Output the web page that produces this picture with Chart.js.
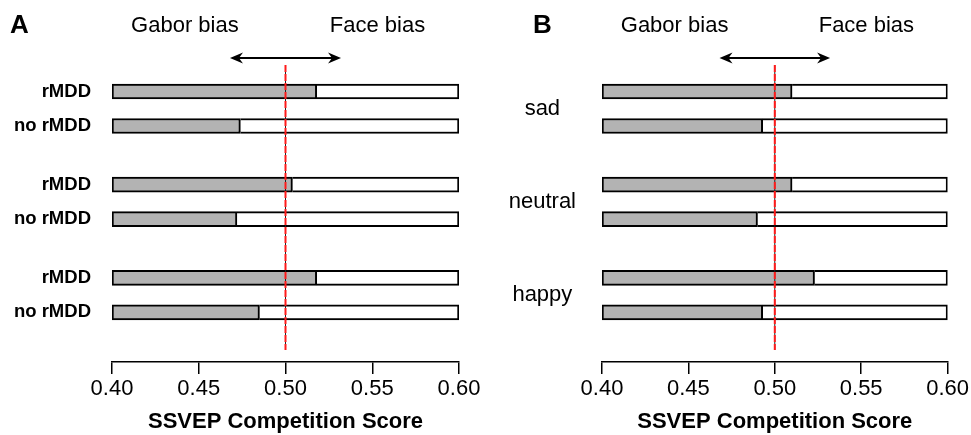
<!DOCTYPE html>
<html>
<head>
<meta charset="utf-8">
<script src="https://cdn.jsdelivr.net/npm/chart.js@4.4.1/dist/chart.umd.min.js"></script>
<style>
  body { margin: 0; background: #fff; }
  #wrap { position: relative; width: 971px; height: 435px; }
  canvas { position: absolute; top: 0; }
  #panelA { left: 0; }
  #panelB { left: 485px; }
</style>
</head>
<body>
<div id="wrap">
  <canvas id="panelA" width="485" height="435"></canvas>
  <canvas id="panelB" width="486" height="435"></canvas>
</div>
<script>
// panel A: rows, top to bottom
const labelsA = ['rMDD', 'no rMDD', 'rMDD', 'no rMDD', 'rMDD', 'no rMDD'];
const scoresA = [0.518, 0.474, 0.504, 0.472, 0.518, 0.485];

// panel B: one label per pair of rows
const labelsB = ['sad', 'neutral', 'happy'];
const scoresB = [0.510, 0.493, 0.510, 0.490, 0.523, 0.493];

const xTicks = [0.40, 0.45, 0.50, 0.55, 0.60];
const neutralScore = 0.50;

const FONT = "'Liberation Sans', Arial, Helvetica, sans-serif";
const xMin = xTicks[0], xMax = xTicks[xTicks.length - 1];

// rows come in pairs, with a gap between pairs
const rowPos = i => Math.floor(i / 2) * 2.7 + (i % 2);

const biasMarks = {
  id: 'biasMarks',
  afterDatasetsDraw(chart, args, opts) {
    const { ctx, chartArea, scales: { x } } = chart;
    const mid = x.getPixelForValue(neutralScore);
    ctx.save();

    // reference line at 0.50
    ctx.strokeStyle = '#222';
    ctx.lineWidth = 1;
    ctx.beginPath();
    ctx.moveTo(mid, chartArea.top);
    ctx.lineTo(mid, chartArea.bottom - 12);
    ctx.stroke();
    ctx.strokeStyle = '#ff1a1a';
    ctx.lineWidth = 2;
    ctx.setLineDash([7, 2]);
    ctx.beginPath();
    ctx.moveTo(mid, chartArea.top);
    ctx.lineTo(mid, chartArea.bottom - 12);
    ctx.stroke();
    ctx.setLineDash([]);

    // double arrow
    const ay = chartArea.top - 7;
    const x1 = x.getPixelForValue(0.468), x2 = x.getPixelForValue(0.532);
    ctx.strokeStyle = '#000';
    ctx.fillStyle = '#000';
    ctx.lineWidth = 2;
    ctx.beginPath();
    ctx.moveTo(x1 + 4, ay);
    ctx.lineTo(x2 - 4, ay);
    ctx.stroke();
    [[x1, 1], [x2, -1]].forEach(([tip, d]) => {
      ctx.beginPath();
      ctx.moveTo(tip, ay);
      ctx.lineTo(tip + d * 13, ay - 5.5);
      ctx.lineTo(tip + d * 9, ay);
      ctx.lineTo(tip + d * 13, ay + 5.5);
      ctx.closePath();
      ctx.fill();
    });

    // captions
    ctx.font = '22px ' + FONT;
    ctx.textAlign = 'center';
    ctx.textBaseline = 'alphabetic';
    ctx.fillText('Gabor bias', x.getPixelForValue(0.442), 32);
    ctx.fillText('Face bias', x.getPixelForValue(0.553), 32);

    ctx.font = 'bold 26px ' + FONT;
    ctx.textAlign = 'left';
    ctx.fillText(opts.letter, opts.letterX, 33);
    ctx.restore();
  }
};

function makePanel(canvasId, scores, tickRows, tickLabels, yOpts, letter, letterX, leftW, rightPad) {
  return new Chart(document.getElementById(canvasId), {
    type: 'bar',
    data: {
      datasets: [
        {
          data: scores.map((v, i) => ({ x: [xMin, v], y: rowPos(i) })),
          backgroundColor: '#b3b3b3',
          borderColor: '#000',
          borderWidth: 2,
          borderSkipped: false
        },
        {
          data: scores.map((v, i) => ({ x: [v, xMax], y: rowPos(i) })),
          backgroundColor: '#fff',
          borderColor: '#000',
          borderWidth: { top: 2, right: 2, bottom: 2, left: 0 },
          borderSkipped: false
        }
      ]
    },
    options: {
      responsive: false,
      animation: false,
      indexAxis: 'y',
      devicePixelRatio: 1,
      layout: { padding: { top: 65, left: 0, right: rightPad, bottom: 0 } },
      datasets: { bar: { grouped: false, barThickness: 15 } },
      plugins: {
        legend: { display: false },
        tooltip: { enabled: false },
        biasMarks: { letter: letter, letterX: letterX }
      },
      scales: {
        x: {
          type: 'linear',
          min: xMin,
          max: xMax,
          afterBuildTicks: s => { s.ticks = xTicks.map(v => ({ value: v })); },
          afterFit: s => { s.height = 73; },
          ticks: {
            color: '#000',
            padding: 2,
            maxRotation: 0,
            font: { family: FONT, size: 22 },
            callback: v => Number(v).toFixed(2)
          },
          grid: { drawOnChartArea: false, drawTicks: true, tickLength: 12, color: '#000', lineWidth: 1.5 },
          border: { display: true, color: '#000', width: 1.5 },
          title: {
            display: true,
            text: 'SSVEP Competition Score',
            color: '#000',
            padding: 0,
            font: { family: FONT, size: 22, weight: 'bold' }
          }
        },
        y: Object.assign({
          type: 'linear',
          reverse: true,
          offset: false,
          bounds: 'data',
          min: -0.768,
          max: 7.84,
          afterBuildTicks: s => { s.ticks = tickRows.map(v => ({ value: v })); },
          afterFit: s => { s.width = leftW; },
          grid: { display: false, drawTicks: false },
          border: { display: false }
        }, yOpts)
      }
    },
    plugins: [biasMarks]
  });
}

// panel A: one tick per row
const rowsA = labelsA.map((l, i) => rowPos(i));
makePanel('panelA', scoresA, rowsA, labelsA, {
  ticks: {
    color: '#000',
    padding: 21,
    crossAlign: 'near',
    font: { family: FONT, size: 18.5, weight: 'bold' },
    callback: (v, i) => labelsA[i]
  }
}, 'A', 10, 112, 26);

// panel B: one tick in the middle of each pair
const rowsB = labelsB.map((l, g) => (rowPos(2 * g) + rowPos(2 * g + 1)) / 2);
makePanel('panelB', scoresB, rowsB, labelsB, {
  ticks: {
    color: '#000',
    padding: 26,
    crossAlign: 'center',
    font: { family: FONT, size: 22 },
    callback: (v, i) => labelsB[i]
  }
}, 'B', 48, 117, 22);
</script>
</body>
</html>
